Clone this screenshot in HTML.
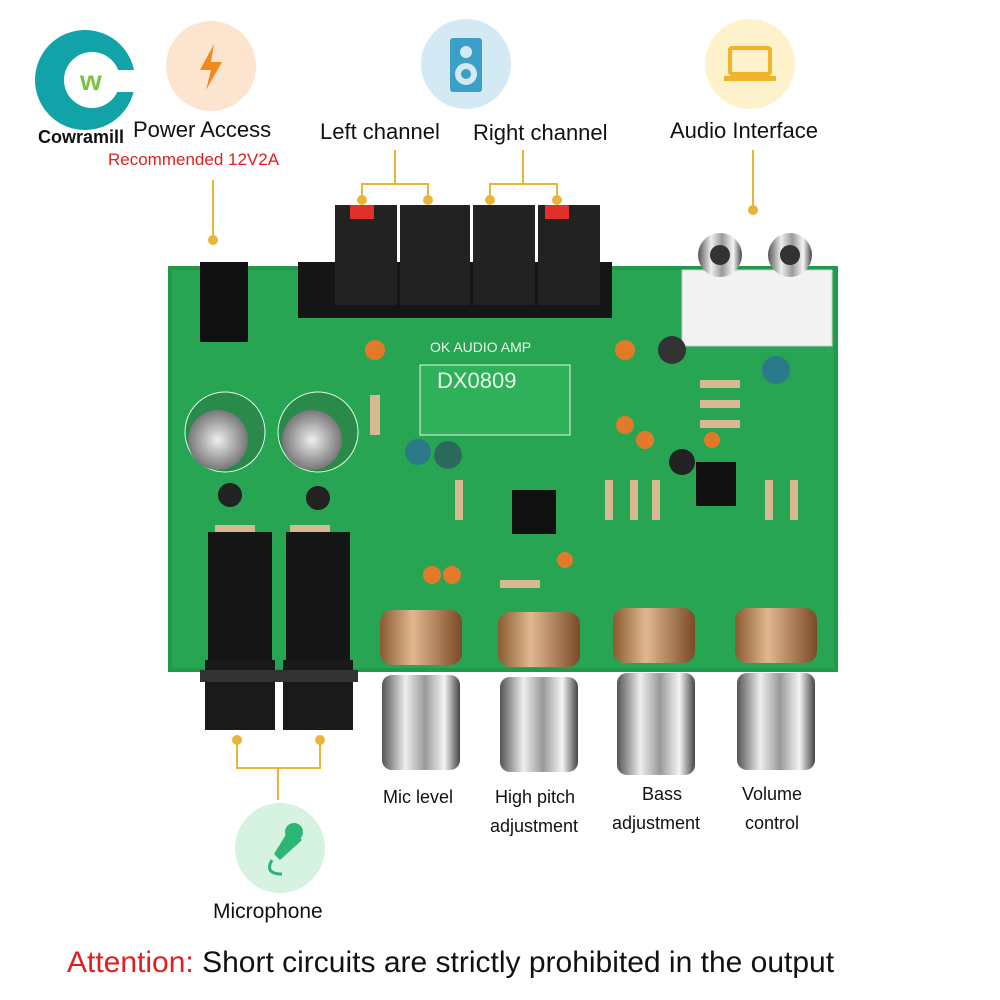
<!DOCTYPE html>
<html><head><meta charset="utf-8"><style>
html,body{margin:0;padding:0;background:#fff;}
body{width:1000px;height:1000px;position:relative;overflow:hidden;font-family:"Liberation Sans",sans-serif;}
.t{position:absolute;color:#111;white-space:nowrap;}
</style></head><body>
<svg width="1000" height="1000" style="position:absolute;left:0;top:0">
<defs>
<linearGradient id="chrome" x1="0" x2="1"><stop offset="0" stop-color="#555"/><stop offset=".3" stop-color="#eee"/><stop offset=".55" stop-color="#999"/><stop offset=".8" stop-color="#f4f4f4"/><stop offset="1" stop-color="#444"/></linearGradient>
<linearGradient id="pot" x1="0" x2="1"><stop offset="0" stop-color="#8a5a30"/><stop offset=".4" stop-color="#e0b890"/><stop offset="1" stop-color="#7a4a25"/></linearGradient>
<radialGradient id="cap"><stop offset="0" stop-color="#eee"/><stop offset="1" stop-color="#777"/></radialGradient>
</defs>
<!-- logo -->
<circle cx="85" cy="80" r="50" fill="#12a3a8"/>
<circle cx="92" cy="80" r="28" fill="#fff"/>
<rect x="110" y="70" width="30" height="22" fill="#fff"/>
<text x="80" y="90" font-size="28" font-weight="bold" fill="#7cc242" font-family="Liberation Sans">w</text>
<!-- icon circles -->
<circle cx="211" cy="66" r="45" fill="#fde4cf"/>
<path d="M214 44 L200 70 L211 70 L206 90 L222 62 L211 62 Z" fill="#f08a1c"/>
<circle cx="466" cy="64" r="45" fill="#d3e9f3"/>
<rect x="450" y="38" width="32" height="54" rx="3" fill="#3aa0c8"/>
<circle cx="466" cy="52" r="6" fill="#d3e9f3"/><circle cx="466" cy="74" r="11" fill="#d3e9f3"/><circle cx="466" cy="74" r="5" fill="#3aa0c8"/>
<circle cx="750" cy="64" r="45" fill="#fdf2cc"/>
<rect x="730" y="48" width="40" height="26" rx="2" fill="none" stroke="#f0b42a" stroke-width="4"/>
<rect x="724" y="76" width="52" height="5" fill="#f0b42a"/>
<circle cx="280" cy="848" r="45" fill="#d6f2e1"/>
<path d="M290 828 l12 12 l-22 20 l-6 -6 z" fill="#2bb673"/><circle cx="294" cy="832" r="9" fill="#2bb673"/>
<path d="M272 860 q-8 14 10 14" stroke="#2bb673" stroke-width="3" fill="none"/>
<!-- connectors -->
<g stroke="#e8b53a" stroke-width="2" fill="#e8b53a">
<line x1="213" y1="180" x2="213" y2="238" stroke-dasharray="0"/><circle cx="213" cy="240" r="4"/>
<polyline points="362,198 362,184 428,184 428,198" fill="none"/><line x1="395" y1="150" x2="395" y2="184"/><circle cx="362" cy="200" r="4"/><circle cx="428" cy="200" r="4"/>
<polyline points="490,198 490,184 557,184 557,198" fill="none"/><line x1="523" y1="150" x2="523" y2="184"/><circle cx="490" cy="200" r="4"/><circle cx="557" cy="200" r="4"/>
<line x1="753" y1="150" x2="753" y2="208"/><circle cx="753" cy="210" r="4"/>
<polyline points="237,740 237,768 320,768 320,740" fill="none"/><line x1="278" y1="768" x2="278" y2="800"/><circle cx="237" cy="740" r="4"/><circle cx="320" cy="740" r="4"/>
</g>
<!-- PCB -->
<path d="M168 266 L838 266 L838 672 L168 672 Z" fill="#1f9a4a"/>
<rect x="172" y="270" width="662" height="398" fill="#27a552"/>
<!-- DC jack -->
<rect x="200" y="262" width="48" height="80" fill="#111"/>
<!-- speaker terminals -->
<rect x="298" y="262" width="314" height="56" fill="#151515"/>
<g fill="#222"><rect x="335" y="205" width="62" height="100"/><rect x="400" y="205" width="70" height="100"/><rect x="473" y="205" width="62" height="100"/><rect x="538" y="205" width="62" height="100"/></g>
<rect x="350" y="205" width="24" height="14" fill="#e0302a"/><rect x="545" y="205" width="24" height="14" fill="#e0302a"/>
<!-- RCA -->
<rect x="682" y="270" width="150" height="76" fill="#f2f2f2" stroke="#ccc"/>
<circle cx="720" cy="255" r="22" fill="url(#chrome)"/><circle cx="720" cy="255" r="10" fill="#333"/>
<circle cx="790" cy="255" r="22" fill="url(#chrome)"/><circle cx="790" cy="255" r="10" fill="#333"/>
<!-- chip label -->
<rect x="420" y="365" width="150" height="70" fill="#2fb05a" stroke="#e8f5e8"/>
<text x="437" y="388" font-size="22" fill="#e8f5e8" font-family="Liberation Sans">DX0809</text>
<text x="430" y="352" font-size="14" fill="#e8f5e8">OK AUDIO AMP</text>
<!-- big caps -->
<circle cx="225" cy="432" r="40" fill="#2a8a4a" stroke="#dfe" stroke-width="1"/><circle cx="218" cy="440" r="30" fill="url(#cap)"/>
<circle cx="318" cy="432" r="40" fill="#2a8a4a" stroke="#dfe" stroke-width="1"/><circle cx="312" cy="440" r="30" fill="url(#cap)"/>
<circle cx="230" cy="495" r="12" fill="#222"/><circle cx="318" cy="498" r="12" fill="#222"/>
<circle cx="418" cy="452" r="13" fill="#2a7a8a"/><circle cx="448" cy="455" r="14" fill="#2a6a5a"/>
<circle cx="672" cy="350" r="14" fill="#333"/><circle cx="776" cy="370" r="14" fill="#2a7a8a"/><circle cx="682" cy="462" r="13" fill="#222"/>
<!-- ICs -->
<rect x="512" y="490" width="44" height="44" fill="#111"/><rect x="696" y="462" width="40" height="44" fill="#111"/>
<!-- small components -->
<g fill="#e27a2a"><circle cx="375" cy="350" r="10"/><circle cx="625" cy="350" r="10"/><circle cx="625" cy="425" r="9"/><circle cx="645" cy="440" r="9"/><circle cx="432" cy="575" r="9"/><circle cx="452" cy="575" r="9"/><circle cx="712" cy="440" r="8"/><circle cx="565" cy="560" r="8"/></g>
<g fill="#d8b890"><rect x="370" y="395" width="10" height="40"/><rect x="455" y="480" width="8" height="40"/><rect x="605" y="480" width="8" height="40"/><rect x="630" y="480" width="8" height="40"/><rect x="652" y="480" width="8" height="40"/><rect x="700" y="380" width="40" height="8"/><rect x="700" y="400" width="40" height="8"/><rect x="700" y="420" width="40" height="8"/><rect x="500" y="580" width="40" height="8"/><rect x="215" y="525" width="40" height="8"/><rect x="290" y="525" width="40" height="8"/><rect x="765" y="480" width="8" height="40"/><rect x="790" y="480" width="8" height="40"/></g>
<!-- jacks -->
<rect x="208" y="532" width="64" height="140" fill="#151515"/><rect x="286" y="532" width="64" height="140" fill="#151515"/>
<rect x="205" y="660" width="70" height="70" fill="#1a1a1a"/><rect x="283" y="660" width="70" height="70" fill="#1a1a1a"/>
<rect x="200" y="670" width="80" height="12" fill="#333"/><rect x="278" y="670" width="80" height="12" fill="#333"/>
<!-- pots and knobs -->
<g>
<rect x="380" y="610" width="82" height="55" rx="12" fill="url(#pot)"/><rect x="382" y="675" width="78" height="95" rx="10" fill="url(#chrome)"/>
<rect x="498" y="612" width="82" height="55" rx="12" fill="url(#pot)"/><rect x="500" y="677" width="78" height="95" rx="10" fill="url(#chrome)"/>
<rect x="613" y="608" width="82" height="55" rx="12" fill="url(#pot)"/><rect x="617" y="673" width="78" height="102" rx="10" fill="url(#chrome)"/>
<rect x="735" y="608" width="82" height="55" rx="12" fill="url(#pot)"/><rect x="737" y="673" width="78" height="97" rx="10" fill="url(#chrome)"/>
</g>
</svg>
<div class="t" style="left:38px;top:127px;font-size:18px;font-weight:bold">Cowramill</div>
<div class="t" style="left:133px;top:117px;font-size:22px">Power Access</div>
<div class="t" style="left:108px;top:150px;font-size:17px;color:#e02020">Recommended 12V2A</div>
<div class="t" style="left:320px;top:119px;font-size:22px">Left channel</div>
<div class="t" style="left:473px;top:120px;font-size:22px">Right channel</div>
<div class="t" style="left:670px;top:118px;font-size:22px">Audio Interface</div>
<div class="t" style="left:383px;top:787px;font-size:18px">Mic level</div>
<div class="t" style="left:495px;top:787px;font-size:18px">High pitch</div>
<div class="t" style="left:490px;top:816px;font-size:18px">adjustment</div>
<div class="t" style="left:642px;top:784px;font-size:18px">Bass</div>
<div class="t" style="left:612px;top:813px;font-size:18px">adjustment</div>
<div class="t" style="left:742px;top:784px;font-size:18px">Volume</div>
<div class="t" style="left:745px;top:813px;font-size:18px">control</div>
<div class="t" style="left:213px;top:900px;font-size:21px">Microphone</div>
<div class="t" style="left:67px;top:946px;font-size:30px"><span style="color:#e02020">Attention:</span> Short circuits are strictly prohibited in the output</div>
</body></html>
